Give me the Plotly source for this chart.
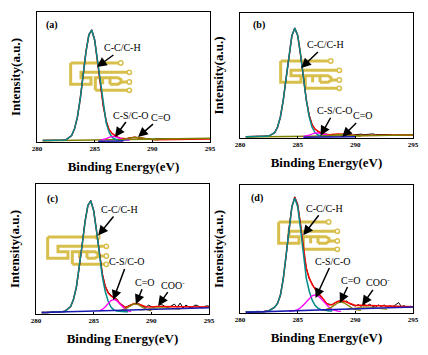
import plotly.graph_objects as go

W, H = 428, 355

# ---------------- data ----------------
energy = [280.5, 281.0, 281.5, 282.0, 282.5, 283.0, 283.25, 283.5, 283.75, 284.0,
          284.25, 284.5, 284.75, 285.0, 285.25, 285.5, 285.75, 286.0, 286.25, 286.5,
          286.75, 287.0, 287.25, 287.5, 287.75, 288.0, 288.5, 289.0, 289.5, 290.0,
          290.5, 291.0, 291.5, 292.0, 292.5, 293.0, 293.5, 294.0, 294.5, 295.0]

raw_energy = [280.5, 281.0, 281.5, 282.0, 282.5, 283.0, 283.25, 283.5, 283.75, 284.0,
              284.25, 284.5, 284.75, 285.0, 285.25, 285.5, 285.75, 286.0, 286.25, 286.5,
              286.75, 287.0, 287.25, 287.5, 287.75, 288.0, 288.25, 288.5, 288.75, 289.0,
              289.25, 289.5, 289.75, 290.0, 290.25, 290.5, 290.75, 291.0, 291.25, 291.5,
              291.75, 292.0, 292.25, 292.5, 292.75, 293.0, 293.25, 293.5, 293.75, 294.0,
              294.25, 294.5, 294.75, 295.0]

cc_energy = [280.5, 281.0, 281.5, 282.0, 282.5, 283.0, 283.25, 283.5, 283.75, 284.0,
             284.25, 284.5, 284.75, 285.0, 285.25, 285.5, 285.75, 286.0, 286.25, 286.5,
             286.75, 287.0, 287.25, 287.5, 287.75, 288.0]

# raw spectra (black)
raw_a = [1.3, 1.1, 1.4, 1.2, 1.8, 4.6, 10.3, 18.7, 33.8, 50.6, 70.1, 82.1, 86.4, 78.8, 62.0, 44.4,
         27.1, 16.6, 9.2, 7.0, 4.6, 3.9, 2.6, 2.7, 2.3, 3.2,
         3.3, 3.7, 3.1, 2.8, 2.5, 2.4, 2.0, 2.1, 2.5, 2.6, 2.2, 2.3, 2.6, 2.5, 2.1, 2.2, 2.0, 1.9,
         2.3, 2.4, 2.2, 2.1, 2.5, 2.6, 2.4, 2.3, 2.6, 2.7]
raw_b = [1.2, 0.9, 1.3, 1.1, 1.7, 4.0, 8.9, 16.3, 30.6, 47.4, 67.5, 81.5, 88.2, 82.4, 66.3, 48.6,
         30.2, 18.6, 10.9, 7.4, 5.0, 4.4, 3.0, 3.1, 2.4, 2.9,
         2.9, 3.3, 2.7, 2.4, 2.9, 2.8, 2.3, 2.5, 3.0, 3.1, 2.6, 2.7, 3.2, 3.3, 2.8, 2.9, 2.5, 2.6,
         3.0, 2.8, 2.4, 2.5, 2.9, 2.9, 2.6, 2.6, 3.0, 2.8]
raw_c = [1.5, 0.9, 1.8, 1.4, 2.4, 5.5, 11.6, 20.1, 35.6, 52.4, 71.3, 83.1, 87.5, 79.9, 64.6, 46.9,
         31.2, 21.8, 16.9, 14.6, 12.3, 11.6, 8.2, 7.0, 5.0, 6.3,
         7.1, 7.6, 8.5, 7.4, 5.9, 4.8, 6.8, 5.6, 4.7, 4.9, 7.3, 6.9, 5.2, 5.0, 6.2, 7.6, 5.1, 8.4,
         4.6, 6.9, 5.3, 4.5, 6.8, 6.6, 5.0, 4.8, 6.3, 6.0]
raw_d = [1.2, 0.7, 1.3, 1.1, 1.9, 4.2, 7.9, 13.2, 27.4, 44.3, 66.8, 82.7, 90.8, 85.1, 69.5, 49.2,
         35.4, 26.8, 23.1, 18.4, 16.5, 12.3, 10.6, 7.2, 6.9, 6.4,
         8.2, 9.0, 9.8, 8.7, 9.4, 7.2, 6.5, 5.4, 6.6, 5.2, 6.8, 5.5, 6.9, 5.1, 4.6, 6.4, 5.0, 6.3,
         4.4, 5.7, 4.8, 6.5, 8.1, 5.0, 5.7, 4.2, 5.3, 4.9]

# fitted envelopes (red)
fit_a = [1.2, 1.2, 1.2, 1.3, 1.6, 4.9, 9.9, 19.1, 33.2, 51.2, 69.5, 82.6, 86.0, 78.3, 62.5, 43.8,
         27.5, 16.0, 9.7, 6.6, 4.9, 3.7, 2.8, 2.5, 2.5, 3.0, 3.6, 3.1, 2.3, 1.9, 1.8, 1.8, 1.9, 1.9,
         2.0, 2.1, 2.1, 2.2, 2.3, 2.4]
fit_b = [1.0, 1.0, 1.0, 1.1, 1.5, 4.2, 8.5, 16.8, 30.1, 47.9, 66.9, 82.0, 87.7, 82.0, 66.9, 48.0,
         30.6, 17.9, 10.6, 7.0, 5.2, 4.1, 3.3, 2.8, 2.6, 2.8, 3.2, 2.9, 2.3, 2.0, 2.0, 2.0, 2.1, 2.1,
         2.2, 2.2, 2.3, 2.3, 2.4, 2.4]
fit_c = [1.0, 1.2, 1.4, 1.5, 2.0, 5.8, 11.2, 20.7, 35.0, 52.9, 70.8, 83.6, 86.9, 79.4, 64.0, 46.2,
         30.6, 21.2, 16.2, 13.9, 12.7, 11.0, 8.5, 6.4, 5.3, 5.8, 8.0, 7.3, 5.6, 5.3, 5.8, 5.8, 5.6,
         5.4, 5.3, 5.3, 5.3, 5.3, 5.3, 5.3]
fit_d = [0.8, 0.8, 0.9, 1.0, 1.6, 4.5, 7.3, 13.8, 26.5, 45.0, 66.0, 83.3, 90.3, 84.5, 68.8, 50.0,
         34.6, 27.4, 22.4, 19.0, 16.0, 12.9, 10.0, 7.6, 6.2, 6.6, 9.2, 9.3, 7.6, 5.9, 6.0, 5.9, 5.6,
         5.3, 5.1, 5.0, 5.0, 5.0, 4.9, 4.9]

# C-C/C-H component (teal)
cc_a = [1.2, 1.2, 1.2, 1.3, 1.6, 4.9, 9.9, 19.1, 33.2, 51.2, 69.5, 82.6, 86.0, 78.3, 62.5, 43.7,
        27.0, 14.8, 7.5, 3.7, 2.1, 1.5, 1.4, 1.4, 1.4, 1.4]
cc_b = [1.0, 1.0, 1.0, 1.1, 1.5, 4.2, 8.5, 16.8, 30.1, 47.9, 66.9, 82.0, 87.7, 82.0, 66.9, 47.9,
        30.2, 16.9, 8.6, 4.3, 2.4, 1.6, 1.4, 1.4, 1.4, 1.4]
cc_c = [1.0, 1.2, 1.4, 1.5, 2.0, 5.8, 11.2, 20.7, 35.0, 52.9, 70.8, 83.6, 86.9, 79.4, 64.0, 45.5,
        28.8, 17.5, 10.0, 5.3, 3.2, 2.3, 2.0, 1.9, 1.8, 1.8]
cc_d = [0.8, 0.8, 0.9, 1.0, 1.6, 4.5, 7.3, 13.8, 26.5, 45.0, 65.9, 83.0, 89.6, 83.0, 65.9, 45.0,
        27.0, 17.2, 10.2, 6.0, 3.8, 2.7, 2.2, 1.8, 1.6, 1.5]

# C-S/C-O component (magenta)
cs_energy_ab = [285.5, 285.75, 286.0, 286.25, 286.5, 286.75, 287.0, 287.25, 287.5, 287.75, 288.0]
cs_a = [1.5, 1.9, 2.6, 3.6, 4.3, 4.2, 3.4, 2.5, 1.9, 1.6, 1.4]
cs_b = [1.3, 1.6, 2.3, 3.2, 4.0, 4.1, 3.5, 2.7, 2.0, 1.6, 1.4]
cs_energy_c = [285.5, 285.75, 286.0, 286.25, 286.5, 286.75, 287.0, 287.25, 287.5, 287.75, 288.0, 288.25]
cs_c = [2.4, 3.5, 5.4, 7.9, 10.3, 11.2, 10.3, 7.9, 5.4, 3.5, 2.4, 1.9]
cs_energy_d = [284.25, 284.5, 284.75, 285.0, 285.25, 285.5, 285.75, 286.0, 286.25, 286.5,
               286.75, 287.0, 287.25, 287.5, 287.75, 288.0, 288.25, 288.5, 288.75]
cs_d = [1.3, 1.5, 1.9, 2.7, 4.1, 6.2, 8.8, 11.4, 13.4, 14.2, 13.4, 11.4, 8.8, 6.2, 4.1, 2.7, 1.9, 1.5, 1.3]

# C=O component (olive)
co_energy_ab = [287.0, 287.5, 288.0, 288.5, 289.0, 289.5, 290.0, 290.5]
co_a = [1.6, 2.0, 3.0, 3.6, 3.1, 2.2, 1.8, 1.7]
co_b = [1.4, 1.8, 2.6, 3.2, 3.0, 2.3, 1.8, 1.6]
co_energy_c = [287.25, 287.5, 287.75, 288.0, 288.25, 288.5, 288.75, 289.0, 289.25, 289.5, 289.75, 290.0]
co_c = [2.5, 3.0, 3.9, 5.3, 6.9, 7.8, 7.7, 6.6, 5.0, 3.7, 2.8, 2.4]
co_energy_d = [287.25, 287.5, 287.75, 288.0, 288.25, 288.5, 288.75, 289.0, 289.25, 289.5,
               289.75, 290.0, 290.25, 290.5]
co_d = [2.3, 2.7, 3.6, 5.0, 6.6, 8.0, 8.6, 8.0, 6.6, 5.0, 3.6, 2.7, 2.3, 2.1]

# COO- component
coo_energy_c = [289.0, 289.5, 290.0, 290.5, 291.0, 291.5, 292.0, 292.5]
coo_c = [3.0, 3.6, 4.4, 4.9, 4.8, 4.3, 3.8, 3.6]
coo_energy_d = [289.25, 289.75, 290.25, 290.75, 291.25, 291.75, 292.25, 292.75]
coo_d = [2.9, 3.5, 4.3, 4.8, 4.6, 3.9, 3.2, 2.9]

# backgrounds
bg_energy = [280.5, 295.0]
bg_olive_a = [1.0, 2.9]
bg_olive_b = [0.8, 2.4]
bg_blue_energy_a = [285.3, 287.5]
bg_blue_a = [0.6, 0.8]
bg_blue_energy_b = [285.5, 290.0]
bg_blue_b = [0.6, 1.0]
bg_blue_c = [1.2, 4.9]
bg_blue_d = [0.5, 4.7]

x_ticks = [280, 285, 290, 295]
x_title = "Binding Energy(eV)"
y_title = "Intensity(a.u.)"
panel_labels = ["(a)", "(b)", "(c)", "(d)"]

# peak labels: (text, energy, intensity, dx px, dy px)
labels_a = [("C-C/C-H", 285.2, 57.7, 26, -19), ("C-S/C-O", 286.76, 3.8, 16, -22),
            ("C=O", 288.76, 3.8, 23, -20)]
labels_b = [("C-C/C-H", 285.31, 56.0, 24, -23), ("C-S/C-O", 286.98, 1.8, 14, -25),
            ("C=O", 288.86, 0.8, 21, -21)]
labels_c = [("C-C/C-H", 285.39, 60.4, 21, -26), ("C-S/C-O", 286.69, 10.8, 14, -38),
            ("C=O", 288.66, 7.5, 9, -22), ("COO<sup>-</sup>", 290.59, 6.4, 15, -21)]
labels_d = [("C-C/C-H", 285.48, 60.8, 21, -27), ("C-S/C-O", 286.55, 11.7, 17, -37),
            ("C=O", 288.66, 7.8, 11, -23), ("COO<sup>-</sup>", 290.59, 6.0, 16, -23)]

# ---------------- layout helpers ----------------
# plot boxes in pixels: left, top, right, bottom
boxes = [(37, 12, 210, 142), (240, 13, 413, 138), (36, 184, 209, 314), (240, 185, 413, 313)]
label_pos = [(52, 25), (259, 25), (52, 199), (257, 198)]
logo_origin = [(66, 57), (276, 55), (43, 231), (274, 216)]

TEAL = "#008b8b"
RED = "#ff0000"
MAG = "#ff00ff"
OLIVE = "#808000"
COO_C = "#a09a30"
BLUE = "#1a1ab0"
GOLD = "#d8bf4c"
FONT = "Liberation Serif"

fig = go.Figure()

panels = [
    dict(raw=raw_a, fit=fit_a, cc=cc_a, cs=(cs_energy_ab, cs_a), co=(co_energy_ab, co_a), coo=None,
         olive_bg=bg_olive_a, blue=(bg_blue_energy_a, bg_blue_a), labels=labels_a),
    dict(raw=raw_b, fit=fit_b, cc=cc_b, cs=(cs_energy_ab, cs_b), co=(co_energy_ab, co_b), coo=None,
         olive_bg=bg_olive_b, blue=(bg_blue_energy_b, bg_blue_b), labels=labels_b),
    dict(raw=raw_c, fit=fit_c, cc=cc_c, cs=(cs_energy_c, cs_c), co=(co_energy_c, co_c),
         coo=(coo_energy_c, coo_c), olive_bg=None, blue=(bg_energy, bg_blue_c), labels=labels_c),
    dict(raw=raw_d, fit=fit_d, cc=cc_d, cs=(cs_energy_d, cs_d), co=(co_energy_d, co_d),
         coo=(coo_energy_d, coo_d), olive_bg=None, blue=(bg_energy, bg_blue_d), labels=labels_d),
]

annotations = []
shapes = []


def pp(x, y):
    return x / W, 1 - y / H


logo_lines = [
    [(14, 18), (158, 18)],
    [(14, 18), (14, 82), (75, 82), (75, 62), (45, 62), (45, 46), (184, 46)],
    [(88, 100), (88, 62), (132, 62), (132, 82)],
    [(110, 62), (110, 82)],
    [(132, 62), (156, 62), (165, 68), (165, 76), (156, 82), (132, 82)],
    [(165, 75), (184, 75)],
    [(88, 100), (184, 100)],
]
logo_circles = [(164, 18), (190, 46), (190, 75), (190, 100)]

for i, p in enumerate(panels):
    n = i + 1
    xa = "x" if n == 1 else f"x{n}"
    ya = "y" if n == 1 else f"y{n}"
    l, t, r, b = boxes[i]

    fig.add_trace(go.Scatter(x=raw_energy, y=p["raw"], mode="lines", line=dict(color="black", width=1),
                             xaxis=xa, yaxis=ya, showlegend=False))
    fig.add_trace(go.Scatter(x=energy, y=p["fit"], mode="lines", line=dict(color=RED, width=1.5),
                             xaxis=xa, yaxis=ya, showlegend=False))
    if p["olive_bg"] is not None:
        fig.add_trace(go.Scatter(x=bg_energy, y=p["olive_bg"], mode="lines",
                                 line=dict(color=OLIVE, width=1.5), xaxis=xa, yaxis=ya, showlegend=False))
    fig.add_trace(go.Scatter(x=cc_energy, y=p["cc"], mode="lines", line=dict(color=TEAL, width=1.5),
                             xaxis=xa, yaxis=ya, showlegend=False))
    fig.add_trace(go.Scatter(x=p["cs"][0], y=p["cs"][1], mode="lines", line=dict(color=MAG, width=1.3),
                             xaxis=xa, yaxis=ya, showlegend=False))
    fig.add_trace(go.Scatter(x=p["co"][0], y=p["co"][1], mode="lines", line=dict(color=OLIVE, width=1.3),
                             xaxis=xa, yaxis=ya, showlegend=False))
    if p["coo"] is not None:
        fig.add_trace(go.Scatter(x=p["coo"][0], y=p["coo"][1], mode="lines",
                                 line=dict(color=COO_C, width=1.3), xaxis=xa, yaxis=ya, showlegend=False))
    fig.add_trace(go.Scatter(x=p["blue"][0], y=p["blue"][1], mode="lines", line=dict(color=BLUE, width=1.5),
                             xaxis=xa, yaxis=ya, showlegend=False))

    axis_common = dict(showline=True, mirror=True, linecolor="black", linewidth=1, showgrid=False,
                       zeroline=False, automargin=False)
    fig.update_layout(**{
        ("xaxis" if n == 1 else f"xaxis{n}"): dict(
            domain=[l / W, r / W], anchor=ya, range=[280, 295], tickvals=x_ticks,
            ticks="inside", ticklen=2, tickcolor="black",
            tickfont=dict(family=FONT, size=7, color="black", weight="bold"),
            title=dict(text=f"<b>{x_title}</b>", font=dict(family=FONT, size=13, color="black"),
                       standoff=9),
            **axis_common),
        ("yaxis" if n == 1 else f"yaxis{n}"): dict(
            domain=[1 - b / H, 1 - t / H], anchor=xa, range=[0, 100], showticklabels=False,
            ticks="",
            title=dict(text=f"<b>{y_title}</b>", font=dict(family=FONT, size=13, color="black"),
                       standoff=12),
            **axis_common),
    })

    for (txt, ex, iy, dx, dy) in p["labels"]:
        annotations.append(dict(x=ex, y=iy, xref=xa, yref=ya, text=txt, showarrow=True,
                                ax=dx, ay=dy, arrowhead=2, arrowsize=1.3, arrowwidth=1.5,
                                arrowcolor="black", font=dict(family=FONT, size=10, color="black")))

    lx, ly = pp(*label_pos[i])
    annotations.append(dict(x=lx, y=ly, xref="paper", yref="paper", text=f"<b>{panel_labels[i]}</b>",
                            xanchor="center", yanchor="middle",
                            showarrow=False, font=dict(family=FONT, size=10, color="black")))

    ox, oy = logo_origin[i]
    for line in logo_lines:
        pts = [pp(ox + u / 3, oy + v / 3) for (u, v) in line]
        path = "M " + " L ".join(f"{a:.5f},{c:.5f}" for a, c in pts)
        shapes.append(dict(type="path", path=path, xref="paper", yref="paper",
                           line=dict(color=GOLD, width=3), layer="below"))
    for (u, v) in logo_circles:
        cx, cy = ox + u / 3, oy + v / 3
        x0, y0 = pp(cx - 2.2, cy + 2.2)
        x1, y1 = pp(cx + 2.2, cy - 2.2)
        shapes.append(dict(type="circle", x0=x0, y0=y0, x1=x1, y1=y1, xref="paper", yref="paper",
                           line=dict(color=GOLD, width=1.5), fillcolor="white", layer="below"))

fig.update_layout(width=W, height=H, margin=dict(l=0, r=0, t=0, b=0),
                  paper_bgcolor="white", plot_bgcolor="rgba(0,0,0,0)",
                  annotations=annotations, shapes=shapes, showlegend=False)

fig.write_html("out.html", config={"displayModeBar": False},
               post_script="document.body.style.margin='0px';")
